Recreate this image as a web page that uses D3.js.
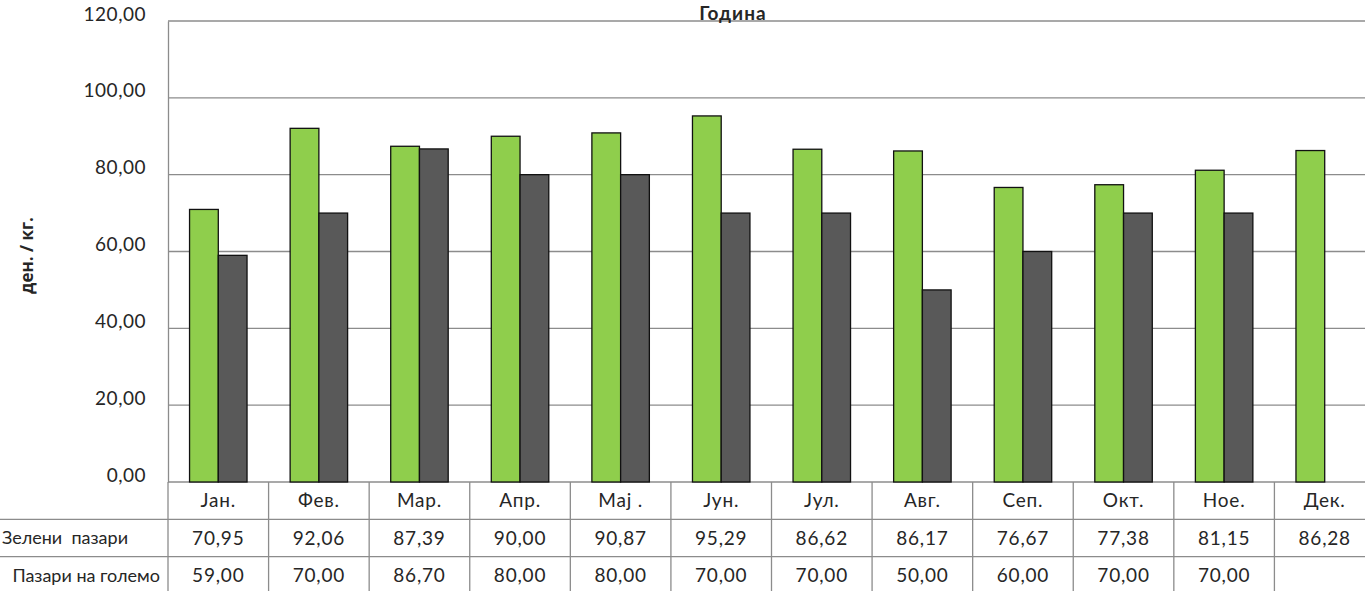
<!DOCTYPE html>
<html>
<head>
<meta charset="utf-8">
<script src="https://cdn.jsdelivr.net/npm/d3@7"></script>
<style>
    body { margin: 0; background: #fff; overflow: hidden; }
    text { font-family: Lato, "Open Sans", sans-serif; fill: #262626; }
</style>
</head>
<body>
<svg id="chart" width="1365" height="591"></svg>
<script>
// months shown in the data table
const months = ['Јан.', 'Фев.', 'Мар.', 'Апр.', 'Мај .', 'Јун.', 'Јул.', 'Авг.', 'Сеп.', 'Окт.', 'Ное.', 'Дек.'];
// series
const seriesNames = ['Зелени  пазари', 'Пазари на големо'];
const greenMarkets = [70.95, 92.06, 87.39, 90.00, 90.87, 95.29, 86.62, 86.17, 76.67, 77.38, 81.15, 86.28];
const wholesale = [59.00, 70.00, 86.70, 80.00, 80.00, 70.00, 70.00, 50.00, 60.00, 70.00, 70.00, null];
const yTicks = [0, 20, 40, 60, 80, 100, 120];

const colors = ['#8fce4c', '#595959'];
const fmt = v => v == null ? '' : d3.format('.2f')(v).replace('.', ',');

const svg = d3.select('#chart');
const plot = {left: 168, right: 1375, top: 21, bottom: 482};
const rowH = 37.3;

let x = d3.scaleBand()
    .domain(months)
    .range([plot.left, plot.right])
    .paddingInner(0)
    .paddingOuter(0);
let inner = d3.scaleBand()
    .domain([0, 1])
    .range([0, x.bandwidth()])
    .paddingInner(0)
    .paddingOuter(0.75);
let y = d3.scaleLinear()
    .domain([0, 120])
    .range([plot.bottom, plot.top]);

// gridlines
svg.append('g')
    .selectAll('line')
    .data(yTicks)
    .enter()
    .append('line')
    .attr('x1', plot.left)
    .attr('x2', plot.right)
    .attr('y1', d => y(d))
    .attr('y2', d => y(d))
    .attr('stroke', '#8c8c8c')
    .attr('stroke-width', 1.3)
;

// y axis
let yAxis = d3.axisLeft(y)
    .tickValues(yTicks)
    .tickSize(0)
    .tickPadding(22)
    .tickFormat(fmt)
;
let yG = svg.append('g')
    .attr('transform', `translate(${plot.left},0)`)
    .call(yAxis)
;
yG.select('.domain').attr('stroke', '#8c8c8c').attr('stroke-width', 1.3);
yG.selectAll('text')
    .style('font-family', 'Lato, sans-serif')
    .style('font-size', '19px')
    .style('letter-spacing', '0.5px')
    .attr('fill', '#333')
    .attr('dy', '-0.05em')
;

// bars
const series = [greenMarkets, wholesale];
series.forEach((vals, s) => {
    svg.append('g')
        .selectAll('rect')
        .data(months.map((m, i) => ({m: m, v: vals[i]})).filter(d => d.v != null))
        .enter()
        .append('rect')
        .attr('x', d => x(d.m) + inner(s))
        .attr('width', inner.bandwidth())
        .attr('y', d => y(d.v))
        .attr('height', d => y(0) - y(d.v))
        .attr('fill', colors[s])
        .attr('stroke', '#111')
        .attr('stroke-width', 1.3)
    ;
});

// data table
const tbl = svg.append('g');
const lineColor = '#8c8c8c';
[1, 2].forEach(r => {
    tbl.append('line')
        .attr('x1', 0).attr('x2', plot.right)
        .attr('y1', plot.bottom + r * rowH).attr('y2', plot.bottom + r * rowH)
        .attr('stroke', lineColor).attr('stroke-width', 1.3);
});
tbl.selectAll('line.col')
    .data(d3.range(months.length + 1))
    .enter()
    .append('line')
    .attr('class', 'col')
    .attr('x1', i => plot.left + i * x.step())
    .attr('x2', i => plot.left + i * x.step())
    .attr('y1', plot.bottom)
    .attr('y2', 591)
    .attr('stroke', lineColor)
    .attr('stroke-width', 1.3)
;

tbl.selectAll('text.month')
    .data(months)
    .enter()
    .append('text')
    .attr('class', 'month')
    .attr('x', d => x(d) + x.bandwidth() / 2)
    .attr('y', plot.bottom + rowH / 2)
    .attr('dy', '0.35em')
    .attr('text-anchor', 'middle')
    .style('font-size', '19px')
    .style('letter-spacing', '0.8px')
    .text(d => d)
;

series.forEach((vals, s) => {
    tbl.selectAll('text.v' + s)
        .data(months.map((m, i) => ({m: m, v: vals[i]})))
        .enter()
        .append('text')
        .attr('class', 'v' + s)
        .attr('x', d => x(d.m) + x.bandwidth() / 2)
        .attr('y', plot.bottom + rowH * (s + 1.5))
        .attr('dy', '0.35em')
        .attr('text-anchor', 'middle')
        .style('font-size', '19px')
        .style('letter-spacing', '0.8px')
        .text(d => fmt(d.v))
    ;
});

// row labels, right aligned so the whole text stays on the page
const labelEnds = [128, 160];
seriesNames.forEach((n, s) => {
    tbl.append('text')
        .attr('x', labelEnds[s])
        .attr('y', plot.bottom + rowH * (s + 1.5))
        .attr('dy', '0.35em')
        .attr('text-anchor', 'end')
        .style('font-size', '18px')
        .style('white-space', 'pre')
        .text(n)
    ;
});

// title
svg.append('text')
    .attr('x', 733)
    .attr('y', 20)
    .attr('text-anchor', 'middle')
    .style('font-size', '19px')
    .style('font-weight', 'bold')
    .style('letter-spacing', '1px')
    .attr('fill', '#111')
    .text('Година')
;

// y axis title
svg.append('text')
    .attr('transform', `translate(33, ${(plot.top + plot.bottom) / 2 + 4}) rotate(-90)`)
    .attr('text-anchor', 'middle')
    .style('font-family', '"Open Sans", sans-serif')
    .style('font-size', '17px')
    .style('font-weight', 'bold')
    .attr('fill', '#111')
    .text('ден. / кг.')
;
</script>
</body>
</html>
